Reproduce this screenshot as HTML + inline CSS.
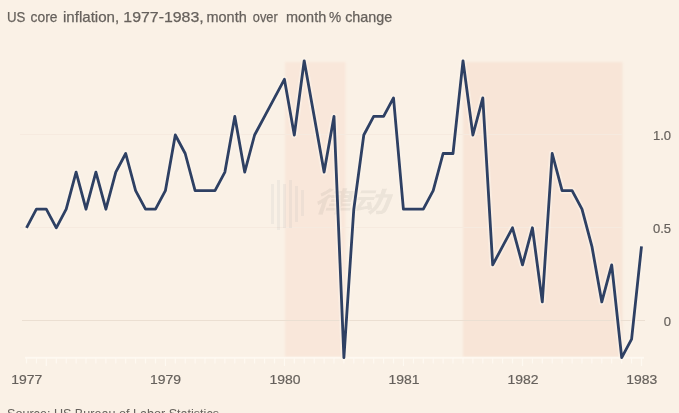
<!DOCTYPE html>
<html><head><meta charset="utf-8"><title>US core inflation</title>
<style>
html,body{margin:0;padding:0;background:#faf1e6;}
body{width:679px;height:413px;overflow:hidden;position:relative;font-family:"Liberation Sans",sans-serif;}
svg{position:absolute;left:0;top:0;display:block;}
text{font-family:"Liberation Sans","Noto Sans CJK SC",sans-serif;fill:#66615c;}
</style></head>
<body>
<svg width="679" height="413" viewBox="0 0 679 413">
<defs>
<filter id="b" filterUnits="userSpaceOnUse" x="-20" y="-20" width="720" height="460"><feGaussianBlur stdDeviation="0.7"/></filter>
<filter id="b2" filterUnits="userSpaceOnUse" x="-20" y="-20" width="720" height="460"><feGaussianBlur stdDeviation="1.2"/></filter>
</defs>
<rect x="0" y="0" width="679" height="413" fill="#faf1e6"/>
<g filter="url(#b2)">
<rect x="285" y="62" width="60.5" height="295" fill="#f9e7da"/>
<rect x="463" y="62" width="159.5" height="295" fill="#f8e5d7"/>
</g>
<g filter="url(#b)">
<g stroke="#f6eadf" stroke-width="1">
<line x1="20" y1="134.5" x2="622" y2="134.5"/>
<line x1="20" y1="227.5" x2="622" y2="227.5"/>
<line x1="22" y1="320.5" x2="645" y2="320.5" stroke="#ebdfd2"/>
</g>
<g stroke="#fffbf5" stroke-width="1.2" opacity="0.75">
<line x1="25" y1="357.8" x2="644" y2="357.8" stroke-width="2"/>
<line x1="26.5" y1="357" x2="26.5" y2="363.5"/><line x1="36.4" y1="357" x2="36.4" y2="363.5"/><line x1="46.3" y1="357" x2="46.3" y2="366"/><line x1="56.3" y1="357" x2="56.3" y2="363.5"/><line x1="66.2" y1="357" x2="66.2" y2="363.5"/><line x1="76.1" y1="357" x2="76.1" y2="363.5"/><line x1="86.0" y1="357" x2="86.0" y2="363.5"/><line x1="95.9" y1="357" x2="95.9" y2="363.5"/><line x1="105.9" y1="357" x2="105.9" y2="363.5"/><line x1="115.8" y1="357" x2="115.8" y2="363.5"/><line x1="125.7" y1="357" x2="125.7" y2="363.5"/><line x1="135.6" y1="357" x2="135.6" y2="363.5"/><line x1="145.5" y1="357" x2="145.5" y2="363.5"/><line x1="155.5" y1="357" x2="155.5" y2="363.5"/><line x1="165.4" y1="357" x2="165.4" y2="366"/><line x1="175.3" y1="357" x2="175.3" y2="363.5"/><line x1="185.2" y1="357" x2="185.2" y2="363.5"/><line x1="195.1" y1="357" x2="195.1" y2="363.5"/><line x1="205.0" y1="357" x2="205.0" y2="363.5"/><line x1="215.0" y1="357" x2="215.0" y2="363.5"/><line x1="224.9" y1="357" x2="224.9" y2="363.5"/><line x1="234.8" y1="357" x2="234.8" y2="363.5"/><line x1="244.7" y1="357" x2="244.7" y2="363.5"/><line x1="254.6" y1="357" x2="254.6" y2="363.5"/><line x1="264.6" y1="357" x2="264.6" y2="363.5"/><line x1="274.5" y1="357" x2="274.5" y2="363.5"/><line x1="284.4" y1="357" x2="284.4" y2="366"/><line x1="294.3" y1="357" x2="294.3" y2="363.5"/><line x1="304.2" y1="357" x2="304.2" y2="363.5"/><line x1="314.2" y1="357" x2="314.2" y2="363.5"/><line x1="324.1" y1="357" x2="324.1" y2="363.5"/><line x1="334.0" y1="357" x2="334.0" y2="363.5"/><line x1="343.9" y1="357" x2="343.9" y2="363.5"/><line x1="353.8" y1="357" x2="353.8" y2="363.5"/><line x1="363.8" y1="357" x2="363.8" y2="363.5"/><line x1="373.7" y1="357" x2="373.7" y2="363.5"/><line x1="383.6" y1="357" x2="383.6" y2="363.5"/><line x1="393.5" y1="357" x2="393.5" y2="363.5"/><line x1="403.4" y1="357" x2="403.4" y2="366"/><line x1="413.4" y1="357" x2="413.4" y2="363.5"/><line x1="423.3" y1="357" x2="423.3" y2="363.5"/><line x1="433.2" y1="357" x2="433.2" y2="363.5"/><line x1="443.1" y1="357" x2="443.1" y2="363.5"/><line x1="453.0" y1="357" x2="453.0" y2="363.5"/><line x1="463.0" y1="357" x2="463.0" y2="363.5"/><line x1="472.9" y1="357" x2="472.9" y2="363.5"/><line x1="482.8" y1="357" x2="482.8" y2="363.5"/><line x1="492.7" y1="357" x2="492.7" y2="363.5"/><line x1="502.6" y1="357" x2="502.6" y2="363.5"/><line x1="512.5" y1="357" x2="512.5" y2="363.5"/><line x1="522.5" y1="357" x2="522.5" y2="366"/><line x1="532.4" y1="357" x2="532.4" y2="363.5"/><line x1="542.3" y1="357" x2="542.3" y2="363.5"/><line x1="552.2" y1="357" x2="552.2" y2="363.5"/><line x1="562.1" y1="357" x2="562.1" y2="363.5"/><line x1="572.1" y1="357" x2="572.1" y2="363.5"/><line x1="582.0" y1="357" x2="582.0" y2="363.5"/><line x1="591.9" y1="357" x2="591.9" y2="363.5"/><line x1="601.8" y1="357" x2="601.8" y2="363.5"/><line x1="611.7" y1="357" x2="611.7" y2="363.5"/><line x1="621.7" y1="357" x2="621.7" y2="363.5"/><line x1="631.6" y1="357" x2="631.6" y2="363.5"/><line x1="641.5" y1="357" x2="641.5" y2="366"/>
</g>
<g opacity="0.09" fill="#8a8f9c">
<rect x="271" y="184" width="3" height="40"/>
<rect x="277" y="180" width="3" height="50"/>
<rect x="283" y="184" width="3" height="44"/>
<rect x="289" y="180" width="3" height="48"/>
<rect x="295" y="186" width="3" height="36"/>
<rect x="301" y="190" width="3" height="26"/>
<text x="313" y="212" font-size="28" font-weight="bold" font-style="italic" fill="#8a8f9c" textLength="76" lengthAdjust="spacingAndGlyphs">律动</text>
</g>
<polyline fill="none" stroke="#fdf6ee" stroke-opacity="0.45" stroke-width="6.5" stroke-linejoin="round" stroke-linecap="round" points="26.5,227.8 36.4,209.2 46.3,209.2 56.3,227.8 66.2,209.2 76.1,172.1 86.0,209.2 95.9,172.1 105.9,209.2 115.8,172.1 125.7,153.5 135.6,190.7 145.5,209.2 155.5,209.2 165.4,190.7 175.3,135.0 185.2,153.5 195.1,190.7 205.0,190.7 215.0,190.7 224.9,172.1 234.8,116.4 244.7,172.1 254.6,135.0 264.6,116.4 274.5,97.9 284.4,79.3 294.3,135.0 304.2,60.8 314.2,116.4 324.1,172.1 334.0,116.4 343.9,357.6 353.8,209.2 363.8,135.0 373.7,116.4 383.6,116.4 393.5,97.9 403.4,209.2 413.4,209.2 423.3,209.2 433.2,190.7 443.1,153.5 453.0,153.5 463.0,60.8 472.9,135.0 482.8,97.9 492.7,264.9 502.6,246.3 512.5,227.8 522.5,264.9 532.4,227.8 542.3,301.9 552.2,153.5 562.1,190.7 572.1,190.7 582.0,209.2 591.9,246.3 601.8,301.9 611.7,264.9 621.7,357.6 631.6,339.1 641.5,246.3"/>
<polyline fill="none" stroke="#2d3f63" stroke-width="2.8" stroke-linejoin="round" stroke-linecap="butt" points="26.5,227.8 36.4,209.2 46.3,209.2 56.3,227.8 66.2,209.2 76.1,172.1 86.0,209.2 95.9,172.1 105.9,209.2 115.8,172.1 125.7,153.5 135.6,190.7 145.5,209.2 155.5,209.2 165.4,190.7 175.3,135.0 185.2,153.5 195.1,190.7 205.0,190.7 215.0,190.7 224.9,172.1 234.8,116.4 244.7,172.1 254.6,135.0 264.6,116.4 274.5,97.9 284.4,79.3 294.3,135.0 304.2,60.8 314.2,116.4 324.1,172.1 334.0,116.4 343.9,357.6 353.8,209.2 363.8,135.0 373.7,116.4 383.6,116.4 393.5,97.9 403.4,209.2 413.4,209.2 423.3,209.2 433.2,190.7 443.1,153.5 453.0,153.5 463.0,60.8 472.9,135.0 482.8,97.9 492.7,264.9 502.6,246.3 512.5,227.8 522.5,264.9 532.4,227.8 542.3,301.9 552.2,153.5 562.1,190.7 572.1,190.7 582.0,209.2 591.9,246.3 601.8,301.9 611.7,264.9 621.7,357.6 631.6,339.1 641.5,246.3"/>
<text y="22" font-size="14.8" stroke="#66615c" stroke-width="0.25"><tspan x="7.0" textLength="18.4" lengthAdjust="spacingAndGlyphs">US</tspan> <tspan x="30.6" textLength="26.9" lengthAdjust="spacingAndGlyphs">core</tspan> <tspan x="63.0" textLength="56.2" lengthAdjust="spacingAndGlyphs">inflation,</tspan> <tspan x="123.3" textLength="80.4" lengthAdjust="spacingAndGlyphs">1977-1983,</tspan> <tspan x="206.5" textLength="40.2" lengthAdjust="spacingAndGlyphs">month</tspan> <tspan x="252.8" textLength="24.9" lengthAdjust="spacingAndGlyphs">over</tspan> <tspan x="286" textLength="40.2" lengthAdjust="spacingAndGlyphs">month</tspan> <tspan x="329" textLength="12.2" lengthAdjust="spacingAndGlyphs">%</tspan> <tspan x="345.2" textLength="47.1" lengthAdjust="spacingAndGlyphs">change</tspan></text>
<g font-size="13.2" text-anchor="middle" stroke="#66615c" stroke-width="0.2">
<text x="26.8" y="384.2" textLength="31" lengthAdjust="spacingAndGlyphs">1977</text>
<text x="165.5" y="384.2" textLength="31" lengthAdjust="spacingAndGlyphs">1979</text>
<text x="285" y="384.2" textLength="31" lengthAdjust="spacingAndGlyphs">1980</text>
<text x="404" y="384.2" textLength="31" lengthAdjust="spacingAndGlyphs">1981</text>
<text x="523" y="384.2" textLength="31" lengthAdjust="spacingAndGlyphs">1982</text>
<text x="641.8" y="384.2" textLength="31" lengthAdjust="spacingAndGlyphs">1983</text>
</g>
<g font-size="13" text-anchor="end" stroke="#66615c" stroke-width="0.2">
<text x="671" y="140.3">1.0</text>
<text x="671" y="233">0.5</text>
<text x="671" y="326">0</text>
</g>
<text x="7" y="418" font-size="13" textLength="212" lengthAdjust="spacingAndGlyphs" fill="#8a8580">Source: US Bureau of Labor Statistics</text>
</g>
</svg>
</body></html>
